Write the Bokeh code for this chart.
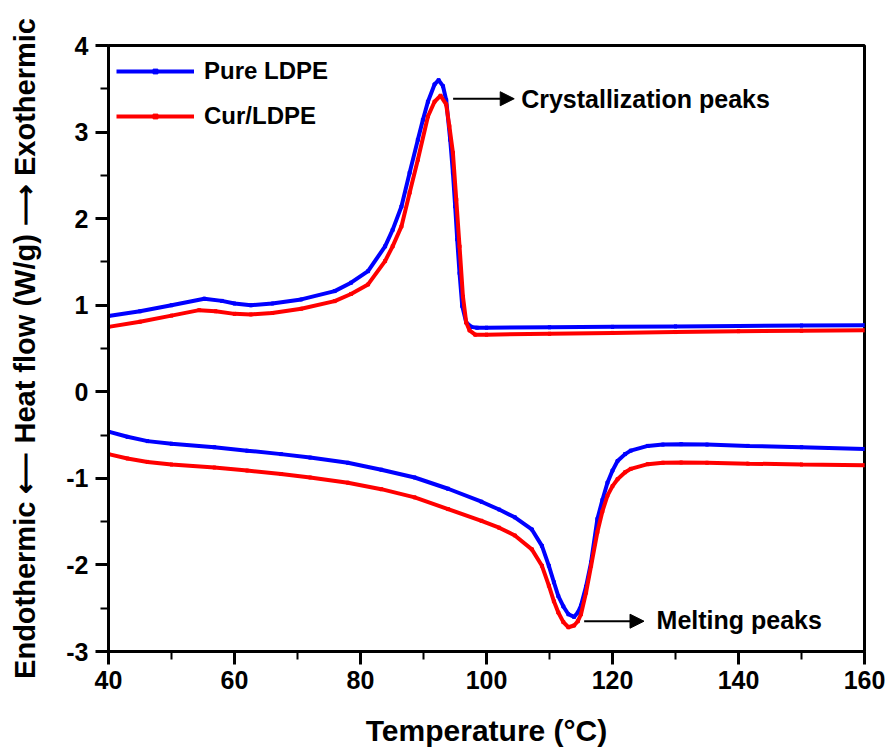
from bokeh.plotting import figure
from bokeh.models import (Range1d, Legend, LegendItem, Arrow, NormalHead, Label,
                          FixedTicker, ColumnDataSource)
from bokeh.embed import file_html
from bokeh.resources import INLINE

# ---- data ----
# crystallization (cooling) curves
cryst_x_pure = [40, 45, 50, 55.2, 58, 60, 62.6, 66, 70.6, 75.9, 78.5, 81.2, 83.9, 85.1, 86.5,
                87.8, 89.1, 89.9, 90.7, 91.75, 92.4, 93.1, 93.6, 94.24, 94.67, 95.03, 95.35,
                95.72, 96.15, 96.78, 97.58, 98.5, 100, 110, 120, 130, 140, 150, 160]
cryst_y_pure = [0.875, 0.93, 1.00, 1.075, 1.05, 1.02, 1.00, 1.02, 1.067, 1.163, 1.26, 1.393, 1.68,
                1.87, 2.14, 2.53, 2.91, 3.14, 3.35, 3.55, 3.60, 3.53, 3.37, 2.91, 2.53, 2.14, 1.76,
                1.37, 0.99, 0.80, 0.75, 0.74, 0.74, 0.745, 0.75, 0.755, 0.76, 0.765, 0.77]
cryst_x_cur = [40, 45, 50, 54.4, 57, 60, 62.6, 66, 70.6, 75.9, 78.5, 81.2, 83.9, 85.1, 86.5,
               87.8, 89.1, 90.7, 91.75, 92.7, 93.6, 94.1, 94.67, 95.2, 95.72, 96.26, 96.78,
               97.3, 98.2, 100, 110, 120, 130, 140, 150, 160]
cryst_y_cur = [0.75, 0.81, 0.88, 0.943, 0.93, 0.90, 0.894, 0.91, 0.96, 1.047, 1.13, 1.24, 1.51,
               1.68, 1.91, 2.30, 2.68, 3.18, 3.35, 3.42, 3.32, 3.07, 2.76, 2.22, 1.68, 1.10, 0.80,
               0.71, 0.66, 0.66, 0.67, 0.68, 0.69, 0.70, 0.705, 0.71]

# melting (heating) curves
melt_x = [40, 43, 46.2, 50, 56.8, 62, 67.4, 72, 78, 83.3, 88.6, 93.9, 99.2, 102, 104.5, 107.2,
          108.8, 109.9, 110.7, 111.4, 112.2, 113.0, 113.9, 114.5, 115.0, 115.8, 116.6, 117.6,
          118.4, 119.2, 120.0, 120.8, 122.0, 122.9, 125.6, 128, 130.9, 135, 141.5, 150, 160]
melt_y_pure = [-0.46, -0.52, -0.57, -0.60, -0.64, -0.68, -0.72, -0.76, -0.82, -0.90, -0.99, -1.12,
               -1.27, -1.36, -1.45, -1.59, -1.78, -2.01, -2.20, -2.36, -2.48, -2.57, -2.60, -2.55,
               -2.47, -2.25, -1.97, -1.47, -1.25, -1.05, -0.91, -0.80, -0.72, -0.68, -0.625, -0.61,
               -0.605, -0.61, -0.625, -0.64, -0.66]
melt_y_cur = [-0.72, -0.77, -0.81, -0.84, -0.875, -0.91, -0.95, -0.99, -1.05, -1.125, -1.22, -1.355,
              -1.49, -1.57, -1.66, -1.82, -2.01, -2.24, -2.42, -2.55, -2.66, -2.72, -2.70, -2.65,
              -2.57, -2.32, -2.01, -1.62, -1.38, -1.20, -1.09, -1.01, -0.93, -0.89, -0.836, -0.82,
              -0.817, -0.82, -0.83, -0.84, -0.848]

series_names = ["Pure LDPE", "Cur/LDPE"]
series_colors = ["#0000FF", "#FF0000"]

x_ticks = [40, 60, 80, 100, 120, 140, 160]
y_ticks = [-3, -2, -1, 0, 1, 2, 3, 4]
y_tick_labels = ["-3", "-2", "-1", "0", "1", "2", "3", "4"]

# annotation arrows: (x_start, x_end, y) and text anchors
cryst_arrow = (94.7, 104.4, 3.385)
cryst_text = (105.5, 3.385, "Crystallization peaks")
melt_arrow = (115.5, 125.0, -2.65)
melt_text = (127.0, -2.64, "Melting peaks")

x_title = "Temperature (°C)"
y_title = "Endothermic \u27f5 Heat flow (W/g) \u27f6 Exothermic"

FONT = "Liberation Sans"

p = figure(width=890, height=749, output_backend="svg", toolbar_location=None,
           x_range=Range1d(40, 160), y_range=Range1d(-3, 4),
           min_border_left=108, min_border_right=26, min_border_top=45, min_border_bottom=97)

p.xgrid.visible = False
p.ygrid.visible = False
p.background_fill_color = "white"
p.border_fill_color = "white"
p.outline_line_color = "black"
p.outline_line_width = 3

for ax in (p.xaxis[0], p.yaxis[0]):
    ax.axis_line_width = 3
    ax.major_tick_line_width = 3
    ax.minor_tick_line_width = 2
    ax.major_tick_out = 13
    ax.major_tick_in = 0
    ax.minor_tick_out = 8
    ax.minor_tick_in = 0
    ax.major_label_text_font = FONT
    ax.major_label_text_font_style = "bold"
    ax.major_label_text_font_size = "25px"
    ax.major_label_text_color = "black"
    ax.axis_label_text_font = FONT
    ax.axis_label_text_font_style = "bold"
    ax.axis_label_text_color = "black"

p.xaxis.ticker = FixedTicker(ticks=x_ticks, minor_ticks=list(range(40, 161, 10)))
p.yaxis.ticker = FixedTicker(ticks=y_ticks, minor_ticks=[v / 2 for v in range(-6, 9)])
p.yaxis.major_label_overrides = {t: s for t, s in zip(y_ticks, y_tick_labels)}
p.xaxis.major_label_standoff = 6
p.yaxis.major_label_standoff = 7
p.xaxis.axis_label = x_title
p.xaxis.axis_label_text_font_size = "30px"
p.xaxis.axis_label_standoff = 22
p.yaxis.axis_label = y_title
p.yaxis.axis_label_text_font_size = "29px"
p.yaxis.axis_label_standoff = 22

data = [
    (cryst_x_pure, cryst_y_pure, melt_x, melt_y_pure),
    (cryst_x_cur, cryst_y_cur, melt_x, melt_y_cur),
]

items = []
for (cx, cy, mx, my), name, color in zip(data, series_names, series_colors):
    rends = []
    for xs, ys in ((cx, cy), (mx, my)):
        src = ColumnDataSource(dict(x=xs, y=ys))
        ln = p.line("x", "y", source=src, line_color=color, line_width=4)
        sc = p.scatter("x", "y", source=src, marker="square", size=3,
                       fill_color=color, line_color=color)
        rends.append((ln, sc))
    items.append(LegendItem(label=name, renderers=[rends[0][0], rends[0][1]]))

legend = Legend(items=items, location="top_left", margin=8, padding=0,
                border_line_color=None, background_fill_alpha=0,
                glyph_width=78, glyph_height=12, label_height=36, spacing=9,
                label_standoff=10, label_text_font=FONT, label_text_font_style="bold",
                label_text_font_size="24px", label_text_color="black")
p.add_layout(legend)

for (xs, xe, yy) in (cryst_arrow, melt_arrow):
    p.add_layout(Arrow(x_start=xs, y_start=yy, x_end=xe, y_end=yy, line_width=2,
                       line_color="black",
                       end=NormalHead(size=14, fill_color="black", line_color="black")))

for (tx, ty, tt) in (cryst_text, melt_text):
    p.add_layout(Label(x=tx, y=ty, text=tt, text_baseline="middle", text_align="left",
                       text_font=FONT, text_font_style="bold", text_font_size="25px",
                       text_color="black"))

open("out.html", "w").write(file_html(p, INLINE))
